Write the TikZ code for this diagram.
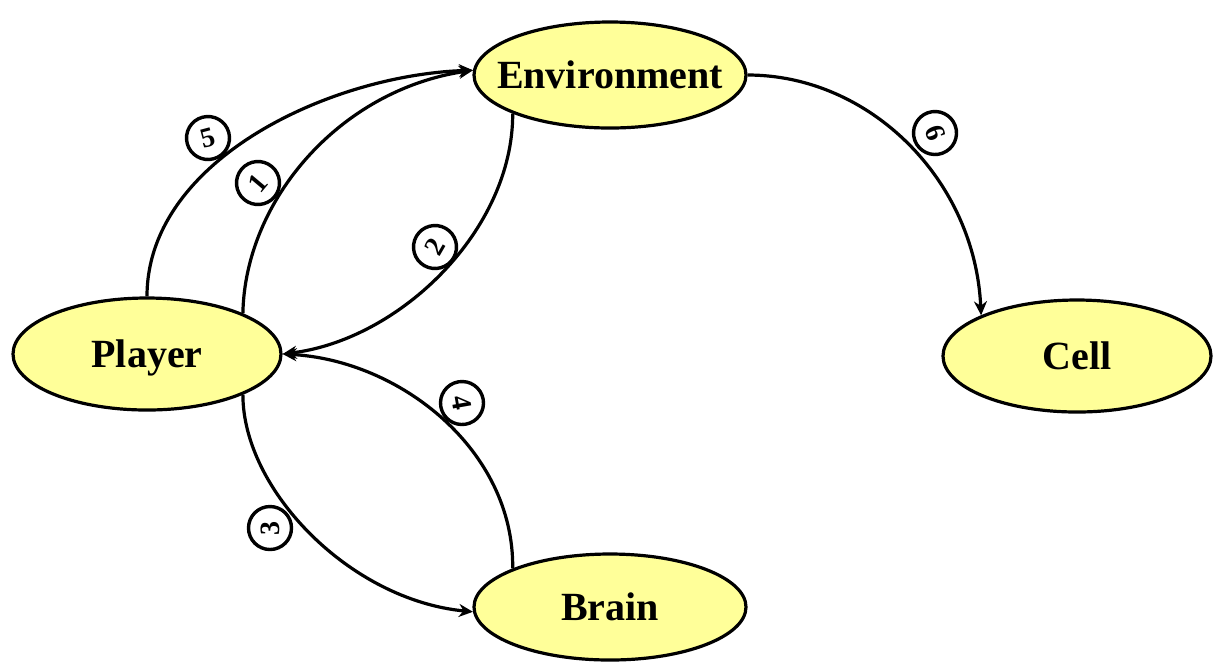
\documentclass[tikz,border=0pt]{standalone}
\usepackage{fontspec}
\setmainfont{Liberation Serif}
\usetikzlibrary{positioning, arrows, arrows.meta, shapes}
\definecolor{nodeyellow}{RGB}{255,255,153}

\begin{document}
\begin{tikzpicture}[
		x=0.5pt, y=-0.5pt,
		>={Stealth[length=7pt, width=6.5pt]},
		snode/.style={draw, ellipse, line width=1.6pt, fill=nodeyellow, inner xsep=-9pt, inner ysep=0pt, text height=13pt, text depth=0pt, minimum width=136pt, minimum height=53pt, font=\fontsize{20}{24}\selectfont\bfseries},
		cnum/.style={draw, circle, line width=1.7pt, inner sep=0pt, minimum size=21.5pt, fill=white, font=\fontsize{14}{16}\selectfont\bfseries},
		edge/.style={line width=1.6pt},
	]
	\useasboundingbox (0, 0) rectangle (1213, 661);

	\node[snode] (env) at (610, 75) {Environment};
	\node[snode, minimum width=134pt, minimum height=56pt] (player) at (147, 354) {Player};
	\node[snode, minimum width=134pt, minimum height=56pt] (cell) at (1077, 356) {Cell};
	\node[snode] (brain) at (610, 607) {Brain};

	\draw[->, edge] (player.north) .. controls (147, 160) and (330, 75) .. (env.178);
	\draw[->, edge] (player.north east) .. controls (245, 200) and (340, 90) .. (env.178);
	\draw[->, edge] (env.south west) .. controls (513, 230) and (400, 340) .. (player.east);
	\draw[->, edge] (player.south east) .. controls (243, 490) and (350, 600) .. (brain.182);
	\draw[->, edge] (brain.north west) .. controls (514, 450) and (400, 360) .. (player.east);
	\draw[->, edge] (env.east) .. controls (870, 75) and (975, 180) .. (cell.north west);

	\node[cnum, rotate=15] (n5) at (208, 138) {5};
	\node[cnum, rotate=50] (n1) at (258, 183) {1};
	\node[cnum, rotate=60] (n2) at (435, 247) {2};
	\node[cnum, rotate=90] (n3) at (270, 528) {3};
	\node[cnum, rotate=-80] (n4) at (462, 403) {4};
	\node[cnum, rotate=-70] (n6) at (935, 133) {6};
\end{tikzpicture}
\end{document}
